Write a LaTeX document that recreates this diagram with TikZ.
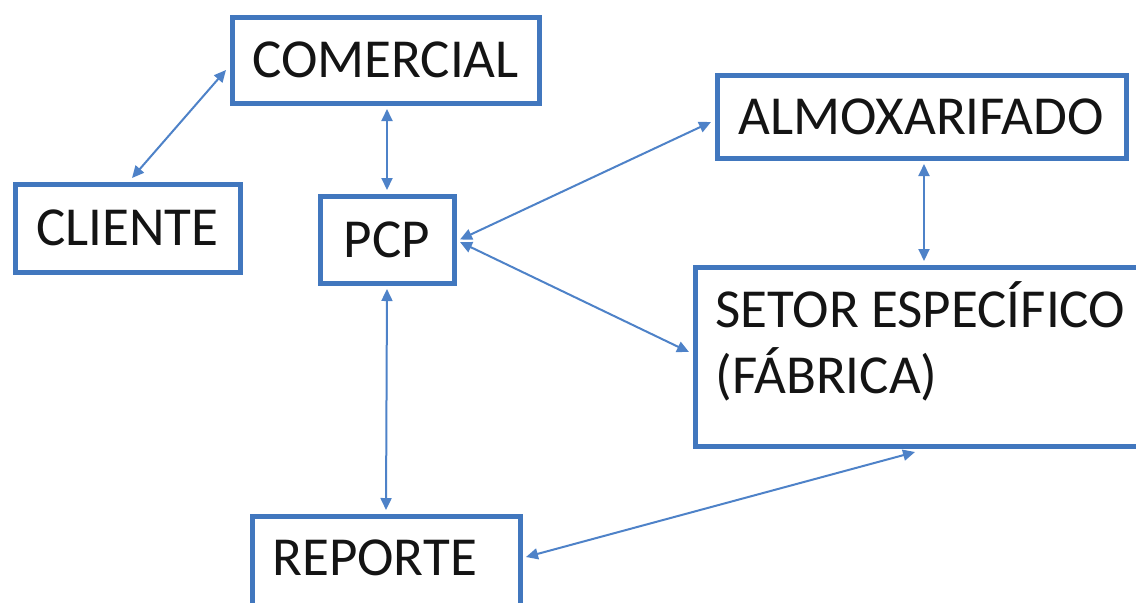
\documentclass[tikz,border=0pt]{standalone}
\usepackage{fontspec}
\setmainfont{Carlito}
\usetikzlibrary{arrows.meta}
\definecolor{boxblue}{RGB}{65,119,190}
\definecolor{linkblue}{RGB}{78,130,200}
\definecolor{txt}{RGB}{20,20,20}
\begin{document}
\begin{tikzpicture}[x=0.5pt,y=-0.5pt,
  box/.style={draw=boxblue,line width=2.5pt,outer sep=3pt,inner sep=0pt,text=txt,
    font=\fontsize{27.5}{33}\selectfont},
  lbl/.style={inner sep=0pt,align=left,text=txt,font=\fontsize{27.5}{33}\selectfont},
  link/.style={draw=linkblue,line width=1pt,
    {Triangle[length=6pt,width=5.5pt]}-{Triangle[length=6pt,width=5.5pt]}}]
\useasboundingbox (0,0) rectangle (1136,602);
\clip (0,0) rectangle (1136,602);
\node[box,minimum width=153.5pt,minimum height=43pt] (comercial) at (385.5,60) {COMERCIAL};
\node[box,minimum width=112.5pt,minimum height=44pt] (cliente) at (127.5,228) {CLIENTE};
\node[box,minimum width=67pt,minimum height=43.5pt] (pcp) at (387,239.5) {PCP};
\node[box,minimum width=204.5pt,minimum height=41.5pt] (almox) at (921.5,116.5) {ALMOXARIFADO};
\node[box,minimum width=232.5pt,minimum height=89.5pt] (setor) at (927.5,356.5) {};
\node[lbl,anchor=base west] (setortxt) at (715,393) {SETOR ESPECÍFICO\\(FÁBRICA)};
\node[box,minimum width=134pt,minimum height=92pt] (reporte) at (386,608) {};
\node[lbl,anchor=base west] (reportetxt) at (272,575) {REPORTE};
\draw[link] ([yshift=-5pt]comercial.west) -- ([xshift=2.25pt]cliente.north);
\draw[link] ([xshift=0.75pt]comercial.south) -- (pcp.north);
\draw[link] (pcp.east) -- ([yshift=-2.75pt]almox.west);
\draw[link] ([yshift=-1.25pt]pcp.east) -- ([yshift=2.25pt]setor.west);
\draw[link] ([xshift=1.25pt]almox.south) -- ([xshift=-1.75pt]setor.north);
\draw[link] (pcp.south) -- (reporte.north);
\draw[link] ([xshift=-6.25pt]setor.south) -- ([yshift=-23.5pt]reporte.north east);
\end{tikzpicture}
\end{document}
